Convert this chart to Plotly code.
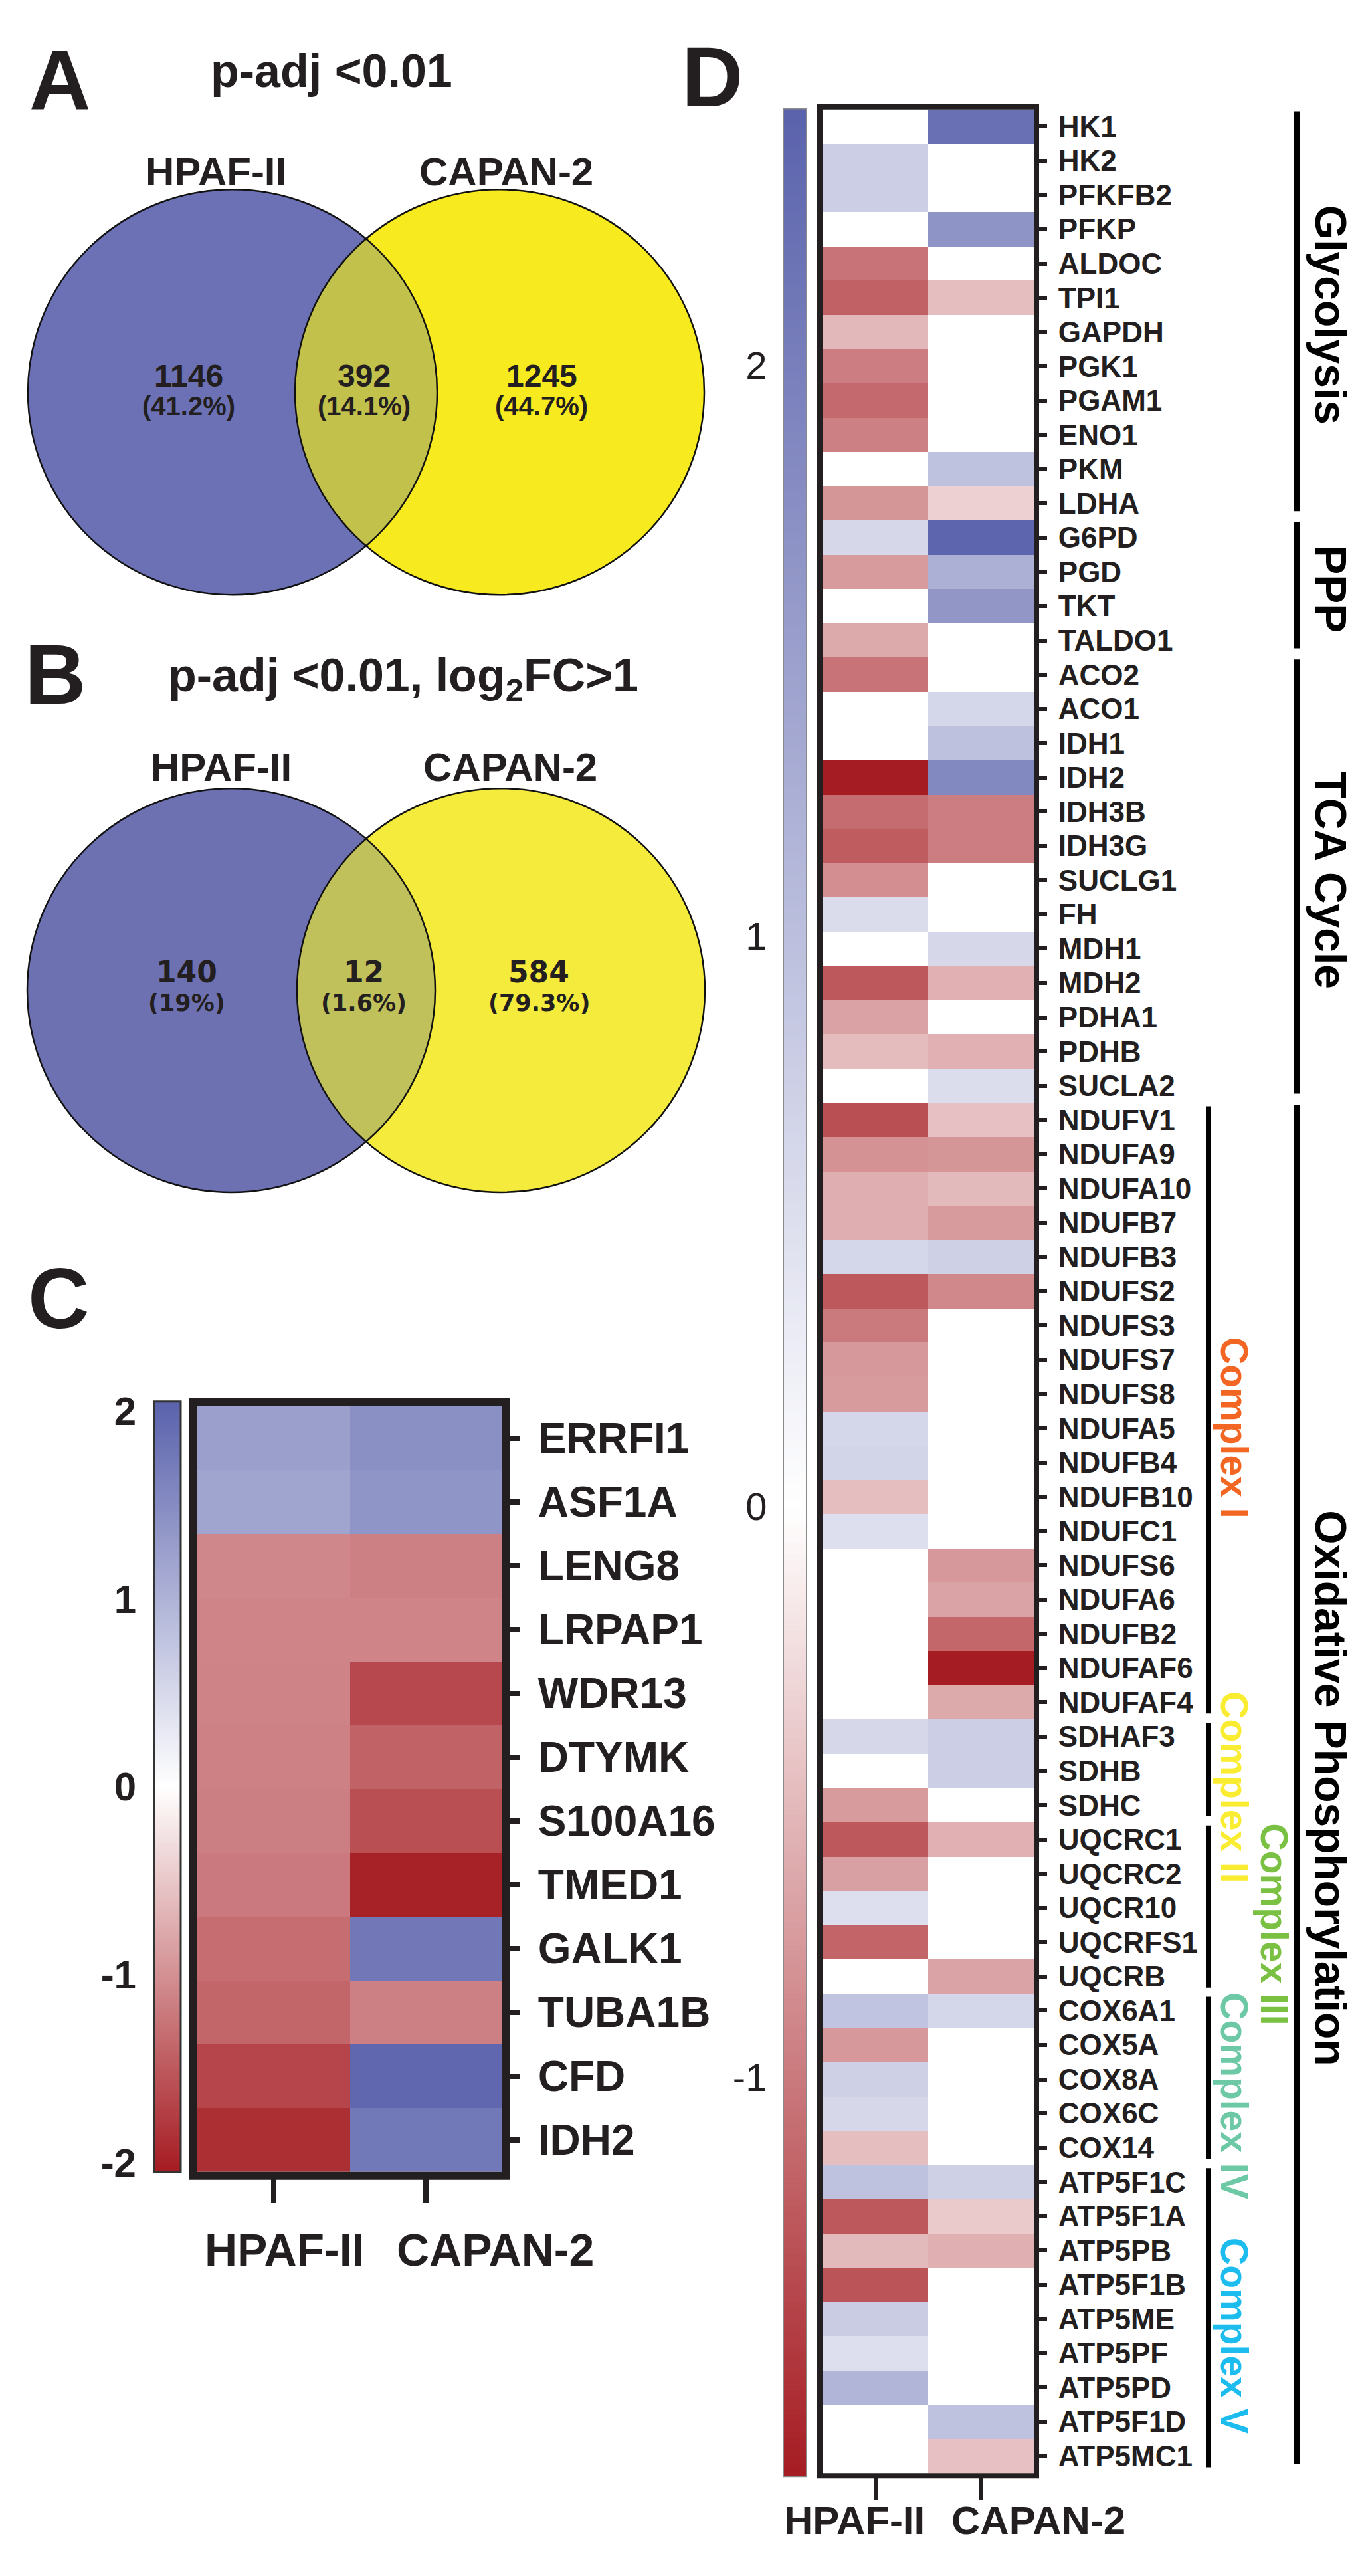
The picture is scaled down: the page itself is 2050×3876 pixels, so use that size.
import numpy as np
import plotly.graph_objects as go

# ---------------- data ----------------
cell_lines = ["HPAF-II", "CAPAN-2"]

venn_a_title = "p-adj &lt;0.01"
venn_a_counts = [1146, 392, 1245]
venn_a_pcts = ["41.2%", "14.1%", "44.7%"]

venn_b_title = "p-adj &lt;0.01, log<sub>2</sub>FC&gt;1"
venn_b_counts = [140, 12, 584]
venn_b_pcts = ["19%", "1.6%", "79.3%"]

c_genes = ["ERRFI1", "ASF1A", "LENG8", "LRPAP1", "WDR13", "DTYMK",
           "S100A16", "TMED1", "GALK1", "TUBA1B", "CFD", "IDH2"]
c_hpaf = [1.25, 1.18, -1.08, -1.10, -1.12, -1.14, -1.16, -1.20, -1.32, -1.38, -1.68, -1.88]
c_capan = [1.45, 1.38, -1.15, -1.10, -1.65, -1.42, -1.60, -2.00, 1.77, -1.15, 1.98, 1.75]
c_range = [-2.05, 2.05]
c_ticks = [2, 1, 0, -1, -2]
c_ticktext = ["2", "1", "0", "-1", "-2"]

d_genes = ["HK1", "HK2", "PFKFB2", "PFKP", "ALDOC", "TPI1", "GAPDH", "PGK1", "PGAM1", "ENO1",
           "PKM", "LDHA", "G6PD", "PGD", "TKT", "TALDO1", "ACO2", "ACO1", "IDH1", "IDH2",
           "IDH3B", "IDH3G", "SUCLG1", "FH", "MDH1", "MDH2", "PDHA1", "PDHB", "SUCLA2",
           "NDUFV1", "NDUFA9", "NDUFA10", "NDUFB7", "NDUFB3", "NDUFS2", "NDUFS3", "NDUFS7",
           "NDUFS8", "NDUFA5", "NDUFB4", "NDUFB10", "NDUFC1", "NDUFS6", "NDUFA6", "NDUFB2",
           "NDUFAF6", "NDUFAF4", "SDHAF3", "SDHB", "SDHC", "UQCRC1", "UQCRC2", "UQCR10",
           "UQCRFS1", "UQCRB", "COX6A1", "COX5A", "COX8A", "COX6C", "COX14", "ATP5F1C",
           "ATP5F1A", "ATP5PB", "ATP5F1B", "ATP5ME", "ATP5PF", "ATP5PD", "ATP5F1D", "ATP5MC1"]
d_hpaf = [0, 0.76, 0.76, 0, -1.05, -1.18, -0.53, -0.97, -1.12, -0.95,
          0, -0.79, 0.61, -0.75, 0, -0.64, -1.05, 0, 0, -1.70,
          -1.10, -1.22, -0.85, 0.55, 0, -1.25, -0.70, -0.50, 0,
          -1.32, -0.82, -0.61, -0.61, 0.64, -1.25, -1.00, -0.77,
          -0.75, 0.64, 0.67, -0.49, 0.51, 0, 0, 0,
          0, 0, 0.61, 0, -0.75, -1.25, -0.71, 0.51,
          -1.16, 0, 0.92, -0.77, 0.73, 0.61, -0.49, 0.95,
          -1.25, -0.52, -1.28, 0.79, 0.51, 1.16, 0, 0]
d_capan = [2.23, 0, 0, 1.67, 0, -0.49, 0, 0, 0, 0,
           0.95, -0.35, 2.40, 1.23, 1.64, 0, 0, 0.64, 0.97, 1.86,
           -0.97, -0.97, 0, 0, 0.61, -0.59, 0, -0.59, 0.53,
           -0.47, -0.79, -0.52, -0.75, 0.73, -0.89, 0, 0,
           0, 0, 0, 0, 0, -0.77, -0.69, -1.14,
           -1.70, -0.64, 0.76, 0.76, 0, -0.59, 0, 0,
           0, -0.69, 0.64, 0, 0, 0, 0, 0.73,
           -0.40, -0.60, 0, 0, 0, 0, 0.95, -0.47]
d_range = [-1.70, 2.45]
d_ticks = [2, 1, 0, -1]
d_ticktext = ["2", "1", "0", "-1"]

pathways = [("Glycolysis", 0, 11), ("PPP", 12, 15), ("TCA Cycle", 16, 28),
            ("Oxidative Phosphorylation", 29, 68)]
complexes = [("Complex I", 29, 46), ("Complex II", 47, 49), ("Complex III", 50, 54),
             ("Complex IV", 55, 59), ("Complex V", 60, 68)]
complex_colors = ["#F26522", "#F9EC31", "#7AC143", "#6DC8A6", "#1CBCEE"]

# ---------------- layout helpers ----------------
W, H = 2050, 3876
OFF = 8                      # default body margin of the html page
FW, FH = W - 2 * OFF, H - 2 * OFF
FONT = "Liberation Sans, Arial, Helvetica, sans-serif"
INK = "#231f20"


def px(x):
    return (x - OFF) / FW


def py(y):
    return 1 - (y - OFF) / FH


def scale(lo, hi):
    f0 = -lo / (hi - lo)
    return [[0.0, "rgb(165,28,34)"], [f0, "rgb(255,255,255)"], [1.0, "rgb(90,98,172)"]]


C_BOX = (297, 756, 2118, 3282)
C_BAR = (232, 272, 2111, 3282)
D_BOX = (1238, 1556, 147, 3740)
D_BAR = (1179, 1214, 146, 3745)

fig = go.Figure()

# ---------------- panel C heatmap ----------------
fig.add_trace(go.Heatmap(
    z=[[h, c] for h, c in zip(c_hpaf, c_capan)], x=cell_lines, y=c_genes,
    zmin=c_range[0], zmax=c_range[1], colorscale=scale(*c_range), showscale=False,
    xaxis="x", yaxis="y", hoverinfo="skip"))
ramp_c = np.linspace(c_range[0], c_range[1], 400)
fig.add_trace(go.Heatmap(
    z=ramp_c.reshape(-1, 1), x=[0], y=ramp_c, zmin=c_range[0], zmax=c_range[1],
    colorscale=scale(*c_range), showscale=False, xaxis="x2", yaxis="y2", hoverinfo="skip"))

# ---------------- panel D heatmap ----------------
fig.add_trace(go.Heatmap(
    z=[[h, c] for h, c in zip(d_hpaf, d_capan)], x=cell_lines, y=d_genes,
    zmin=d_range[0], zmax=d_range[1], colorscale=scale(*d_range), showscale=False,
    xaxis="x3", yaxis="y3", hoverinfo="skip"))
ramp_d = np.linspace(d_range[0], d_range[1], 400)
fig.add_trace(go.Heatmap(
    z=ramp_d.reshape(-1, 1), x=[0], y=ramp_d, zmin=d_range[0], zmax=d_range[1],
    colorscale=scale(*d_range), showscale=False, xaxis="x4", yaxis="y4", hoverinfo="skip"))

common = dict(showgrid=False, zeroline=False, showline=False, fixedrange=True)

layout = dict(
    width=FW, height=FH, margin=dict(l=0, r=0, t=0, b=0), autosize=False,
    paper_bgcolor="white", plot_bgcolor="white", showlegend=False,
    font=dict(family=FONT, color=INK),
    xaxis=dict(domain=[px(C_BOX[0]), px(C_BOX[1])], anchor="y", ticks="outside", ticklen=46,
               tickwidth=8, tickcolor=INK, showticklabels=False, **common),
    yaxis=dict(domain=[py(C_BOX[3]), py(C_BOX[2])], anchor="x", side="right",
               autorange="reversed", ticks="outside", ticklen=26, tickwidth=8, tickcolor=INK,
               tickmode="linear", tick0=0, dtick=1, ticklabelstandoff=14,
               tickfont=dict(family=FONT, size=64, color=INK, weight="bold"), **common),
    xaxis2=dict(domain=[px(C_BAR[0]), px(C_BAR[1])], anchor="y2", range=[-0.5, 0.5],
                visible=False, **common),
    yaxis2=dict(domain=[py(C_BAR[3]), py(C_BAR[2])], anchor="x2", side="left",
                range=c_range, tickmode="array", tickvals=c_ticks, ticktext=c_ticktext,
                ticks="outside", ticklen=14, tickcolor="rgba(0,0,0,0)",
                tickfont=dict(family=FONT, size=60, color=INK, weight="bold"), **common),
    xaxis3=dict(domain=[px(D_BOX[0]), px(D_BOX[1])], anchor="y3", ticks="outside", ticklen=40,
                tickwidth=6, tickcolor=INK, showticklabels=False, **common),
    yaxis3=dict(domain=[py(D_BOX[3]), py(D_BOX[2])], anchor="x3", side="right",
                autorange="reversed", ticks="outside", ticklen=19, tickwidth=6, tickcolor=INK,
                tickmode="linear", tick0=0, dtick=1, ticklabelstandoff=8,
                tickfont=dict(family=FONT, size=44, color=INK, weight="bold"), **common),
    xaxis4=dict(domain=[px(D_BAR[0]), px(D_BAR[1])], anchor="y4", range=[-0.5, 0.5],
                visible=False, **common),
    yaxis4=dict(domain=[py(D_BAR[3]), py(D_BAR[2])], anchor="x4", side="left",
                range=d_range, tickmode="array", tickvals=d_ticks, ticktext=d_ticktext,
                ticks="outside", ticklen=12, tickcolor="rgba(0,0,0,0)",
                tickfont=dict(family=FONT, size=58, color=INK), **common),
)

shapes = []
annotations = []


def ann(text, x, y, size, bold=True, color=INK, angle=0, family=FONT):
    annotations.append(dict(
        text=text, x=px(x), y=py(y), xref="paper", yref="paper", showarrow=False,
        xanchor="center", yanchor="middle", textangle=angle,
        font=dict(family=family, size=size, color=color, weight="bold" if bold else "normal")))


def rect(x0, x1, y0, y1, color, width, fill="rgba(0,0,0,0)"):
    shapes.append(dict(type="rect", xref="paper", yref="paper",
                       x0=px(x0), x1=px(x1), y0=py(y1), y1=py(y0),
                       line=dict(color=color, width=width), fillcolor=fill, layer="above"))


def vline(x, y0, y1, width, color=INK):
    shapes.append(dict(type="line", xref="paper", yref="paper", x0=px(x), x1=px(x),
                       y0=py(y0), y1=py(y1), line=dict(color=color, width=width)))


# ---------------- Venn diagrams (A, B) ----------------
venns = [
    dict(cy=577, c1=350, c2=752, r=308, blue="#6B71B4", yellow="#F7EA1E", lens="#C2C14C",
         counts=venn_a_counts, pcts=venn_a_pcts, title=venn_a_title, title_xy=(499, 89),
         label_y=242, label_x=(325, 762), num_x=(284, 548, 815), num_y=552, pct_y=598,
         num_font=FONT, num_size=48, pct_size=40, letter="A", letter_xy=(90, 102)),
    dict(cy=1486, c1=348, c2=754, r=307, blue="#6D71B2", yellow="#F5EB3C", lens="#C1C15C",
         counts=venn_b_counts, pcts=venn_b_pcts, title=venn_b_title, title_xy=(607, 1012),
         label_y=1147, label_x=(333, 768), num_x=(281, 547, 811), num_y=1458, pct_y=1505,
         num_font="DejaVu Sans, Verdana, sans-serif", num_size=44, pct_size=35,
         letter="B", letter_xy=(83, 1006)),
]

for v in venns:
    cy, c1, c2, r = v["cy"], v["c1"], v["c2"], v["r"]
    for cx, col in ((c1, v["blue"]), (c2, v["yellow"])):
        shapes.append(dict(type="circle", xref="paper", yref="paper",
                           x0=px(cx - r), x1=px(cx + r), y0=py(cy + r), y1=py(cy - r),
                           fillcolor=col, line=dict(width=0), layer="below"))
    half = (c2 - c1) / 2
    th = np.arccos(half / r)
    a1 = np.linspace(-th, th, 80)
    a2 = np.linspace(np.pi - th, np.pi + th, 80)
    xs = np.concatenate([c1 + r * np.cos(a1), c2 + r * np.cos(a2)])
    ys = np.concatenate([cy + r * np.sin(a1), cy + r * np.sin(a2)])
    path = "M " + " L ".join(f"{px(a):.6f},{py(b):.6f}" for a, b in zip(xs, ys)) + " Z"
    shapes.append(dict(type="path", xref="paper", yref="paper", path=path,
                       fillcolor=v["lens"], line=dict(width=0), layer="below"))
    for cx in (c1, c2):
        shapes.append(dict(type="circle", xref="paper", yref="paper",
                           x0=px(cx - r), x1=px(cx + r), y0=py(cy + r), y1=py(cy - r),
                           fillcolor="rgba(0,0,0,0)", line=dict(width=2.5, color="#111111"),
                           layer="above"))
    ann(v["letter"], *v["letter_xy"], 128)
    ann(v["title"], *v["title_xy"], 70)
    for name, lx in zip(cell_lines, v["label_x"]):
        ann(name, lx, v["label_y"], 60)
    for cnt, pct, nx in zip(v["counts"], v["pcts"], v["num_x"]):
        ann(str(cnt), nx, v["num_y"], v["num_size"], family=v["num_font"])
        ann(f"({pct})", nx, v["pct_y"], v["pct_size"], family=v["num_font"])

# ---------------- panel C decorations ----------------
ann("C", 88, 1954, 128)
rect(C_BOX[0] - 6, C_BOX[1] + 6, C_BOX[2] - 6, C_BOX[3] + 6, INK, 12)
rect(C_BAR[0], C_BAR[1], C_BAR[2], C_BAR[3], "#333333", 3)
ann(cell_lines[0], 428, 3400, 68)
ann(cell_lines[1], 745, 3400, 68)

# ---------------- panel D decorations ----------------
ann("D", 1072, 97, 128)
rect(D_BOX[0] - 4, D_BOX[1] + 4, D_BOX[2] - 4, D_BOX[3] + 4, INK, 8)
rect(D_BAR[0], D_BAR[1], D_BAR[2], D_BAR[3], "#8a8a8a", 2)
ann(cell_lines[0], 1286, 3812, 60)
ann(cell_lines[1], 1563, 3812, 60)

row_h = (D_BOX[3] - D_BOX[2]) / len(d_genes)


def row_y(i):
    return D_BOX[2] + i * row_h


for name, s, e in pathways:
    vline(1952, row_y(s) + 3, row_y(e + 1) - 14, 10, "#000000")
    ann(name, 2003, (row_y(s) + row_y(e + 1)) / 2, 66, angle=90, color="#000000")

for (name, s, e), col in zip(complexes, complex_colors):
    vline(1819, row_y(s) + 5, row_y(e + 1) - 9, 8, "#000000")
    tx = 1918 if name == "Complex III" else 1858
    ann(name, tx, (row_y(s) + row_y(e + 1)) / 2 + 25, 57, angle=90, color=col)

layout["shapes"] = shapes
layout["annotations"] = annotations
fig.update_layout(**layout)

fig.write_html("out.html", config={"displayModeBar": False})
